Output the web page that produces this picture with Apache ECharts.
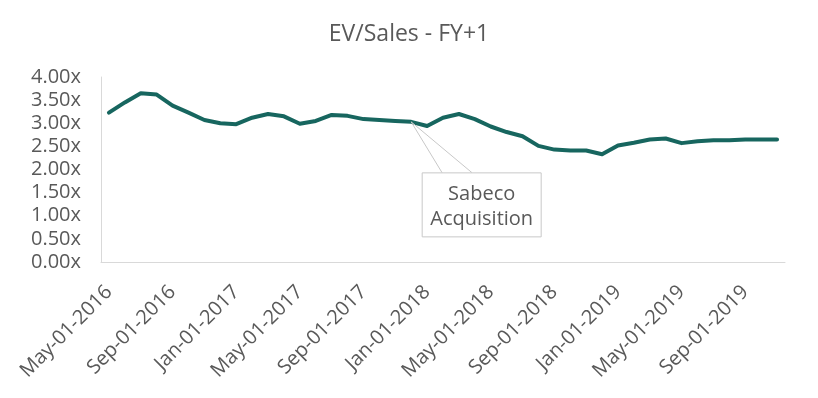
<!DOCTYPE html>
<html>
<head>
<meta charset="UTF-8" />
<title>EV/Sales - FY+1</title>
<script src="https://cdn.jsdelivr.net/npm/echarts@6/dist/echarts.min.js"></script>
<style>
  html, body { margin: 0; padding: 0; background: #fff; }
  #main { width: 818px; height: 398px; }
</style>
</head>
<body>
<div id="main"></div>
<script type="text/javascript">
    // 月份 (每月一日)
    var months = [
        'May-01-2016','Jun-01-2016','Jul-01-2016','Aug-01-2016','Sep-01-2016','Oct-01-2016','Nov-01-2016','Dec-01-2016',
        'Jan-01-2017','Feb-01-2017','Mar-01-2017','Apr-01-2017','May-01-2017','Jun-01-2017','Jul-01-2017','Aug-01-2017',
        'Sep-01-2017','Oct-01-2017','Nov-01-2017','Dec-01-2017',
        'Jan-01-2018','Feb-01-2018','Mar-01-2018','Apr-01-2018','May-01-2018','Jun-01-2018','Jul-01-2018','Aug-01-2018',
        'Sep-01-2018','Oct-01-2018','Nov-01-2018','Dec-01-2018',
        'Jan-01-2019','Feb-01-2019','Mar-01-2019','Apr-01-2019','May-01-2019','Jun-01-2019','Jul-01-2019','Aug-01-2019',
        'Sep-01-2019','Oct-01-2019','Nov-01-2019'
    ];

    // EV/Sales 倍数
    var evSales = [
        3.23, 3.45, 3.65, 3.62, 3.38, 3.23, 3.07, 3.00, 2.98, 3.12, 3.20, 3.15,
        2.99, 3.05, 3.18, 3.16, 3.09, 3.07, 3.05, 3.03,
        2.94, 3.12, 3.20, 3.09, 2.93, 2.81, 2.72, 2.51, 2.43, 2.41, 2.41, 2.33,
        2.52, 2.58, 2.65, 2.67, 2.57, 2.61, 2.63, 2.63, 2.65, 2.65, 2.65
    ];

    // 标注
    var noteIndex = 19;
    var noteLines = ['Sabeco', 'Acquisition'];

    var textColor = '#595959';
    var font = 'Open Sans';

    var myChart = echarts.init(document.getElementById('main'));

    var option = {
        animation: false,
        title: {
            text: 'EV/Sales - FY+1',
            left: 'center',
            top: 18,
            textStyle: { color: textColor, fontSize: 23, fontWeight: 'normal', fontFamily: font }
        },
        grid: { left: 101, right: 33, top: 77, bottom: 136 },
        xAxis: {
            type: 'category',
            data: months,
            boundaryGap: true,
            axisLine: { lineStyle: { color: '#d9d9d9', width: 1 } },
            axisTick: { show: false },
            axisLabel: {
                interval: 3,
                rotate: 45,
                color: textColor,
                fontSize: 20,
                fontFamily: font,
                verticalAlign: 'middle',
                padding: [20, 0, 0, 0],
                margin: 27
            }
        },
        yAxis: {
            type: 'value',
            min: 0,
            max: 4,
            interval: 0.5,
            axisLine: { show: true, lineStyle: { color: '#d9d9d9', width: 1 } },
            axisTick: { show: false },
            splitLine: { show: false },
            axisLabel: {
                color: textColor,
                fontSize: 20,
                fontFamily: font,
                margin: 20,
                formatter: function (v) { return v.toFixed(2) + 'x'; }
            }
        },
        series: [{
            type: 'line',
            data: evSales,
            symbol: 'none',
            lineStyle: { color: '#17665f', width: 4, join: 'round', cap: 'round' }
        }]
    };

    myChart.setOption(option);

    // 标注框: 位置根据数据点换算
    var p = myChart.convertToPixel({ gridIndex: 0 }, [noteIndex, evSales[noteIndex]]);
    var boxX = p[0] + 11, boxY = p[1] + 51, boxW = 119, boxH = 64;
    var noteFont = '20px "' + font + '"';

    myChart.setOption({
        graphic: [
            {
                type: 'polyline',
                shape: { points: [[boxX + 20, boxY], [p[0], p[1]], [boxX + 50, boxY]] },
                style: { stroke: '#c8c8c8', lineWidth: 1, fill: null },
                z: 10
            },
            {
                type: 'rect',
                shape: { x: boxX, y: boxY, width: boxW, height: boxH },
                style: { fill: '#fff', stroke: '#c8c8c8', lineWidth: 1 },
                z: 11
            },
            {
                type: 'text',
                x: boxX + boxW / 2,
                y: boxY + 21,
                style: { text: noteLines[0], fill: textColor, font: noteFont, align: 'center', verticalAlign: 'middle' },
                z: 12
            },
            {
                type: 'text',
                x: boxX + boxW / 2,
                y: boxY + 46,
                style: { text: noteLines[1], fill: textColor, font: noteFont, align: 'center', verticalAlign: 'middle' },
                z: 12
            }
        ]
    });
</script>
</body>
</html>
